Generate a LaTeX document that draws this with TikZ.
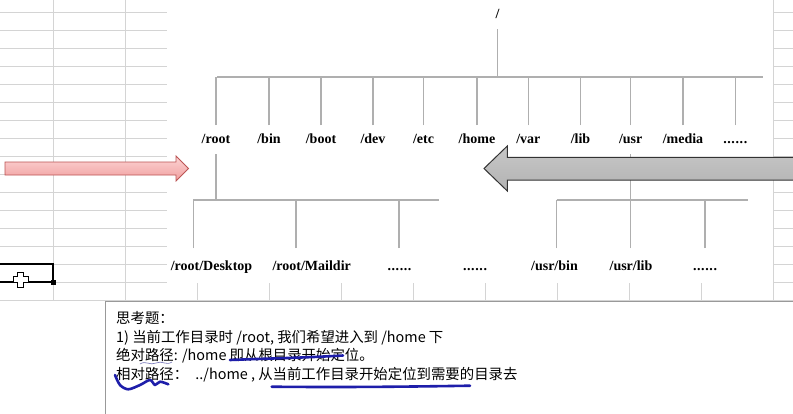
\documentclass[tikz,border=0pt]{standalone}
\usepackage{fontspec}
\setmainfont{Liberation Serif}
\newfontfamily\cjk{Noto Sans CJK SC}
\usetikzlibrary{shadings}
\definecolor{gridc}{RGB}{212,212,212}
\definecolor{treec}{RGB}{175,175,175}
\definecolor{inkc}{RGB}{30,30,170}
\definecolor{thinkc}{RGB}{110,110,180}
\definecolor{pinktop}{RGB}{252,212,212}
\definecolor{pinkbot}{RGB}{240,158,158}
\definecolor{pinkedge}{RGB}{188,84,84}
\newcommand{\dotrow}{.\kern0.6pt.\kern0.6pt.\kern0.6pt.\kern0.6pt.\kern0.6pt.}
\begin{document}
\begin{tikzpicture}[x=1pt,y=-1pt,
  lbl/.style={font=\bfseries\fontsize{14}{16}\selectfont, inner sep=0pt, text height=10pt, text depth=3pt, anchor=base, outer ysep=8pt},
  treeline/.style={draw=treec, line width=1.2pt},
  gridline/.style={draw=gridc, line width=0.8pt},
  note/.style={font=\cjk\fontsize{14.4}{18}\selectfont, anchor=base west, inner sep=0pt},
  inkline/.style={draw=inkc, line width=2.6pt, line cap=round, line join=round}]
\useasboundingbox (0,0) rectangle (793,413);
\fill[white] (0,0) rectangle (793,413);
% spreadsheet grid
\foreach \i in {0,...,10} {\draw[gridline] ({53.3+72*\i},0) -- ({53.3+72*\i},300.5);}
\foreach \j in {0,...,16} {\draw[gridline] (0,{12.5+18*\j}) -- (793,{12.5+18*\j});}
% pasted picture background
\fill[white] (167,0) rectangle (773,283);
% tree
\node[lbl] (top) at (497.5,18) {/};
\coordinate (topbar) at (497.5,77);
\coordinate (barL) at (217,77);
\coordinate (barR) at (763,77);
\draw[treeline] (top.south) -- (topbar);
\draw[treeline] (barL) -- (barR);
\node[lbl] (rootdir) at (216,143) {/root};
\node[lbl] (bin) at (269,143) {/bin};
\node[lbl] (boot) at (321,143) {/boot};
\node[lbl] (dev) at (373,143) {/dev};
\node[lbl] (etc) at (423.5,143) {/etc};
\node[lbl] (home) at (477,143) {/home};
\node[lbl] (var) at (528.3,143) {/var};
\node[lbl] (lib) at (580.5,143) {/lib};
\node[lbl] (usr) at (630.7,143) {/usr};
\node[lbl] (media) at (683,143) {/media};
\node[lbl] (more) at (735.3,143) {\dotrow};
\foreach \n in {rootdir,bin,boot,dev,etc,home,var,lib,usr,media,more}
  {\draw[treeline] (\n.north) -- (\n.north |- topbar);}
% second level under /root
\coordinate (rbar) at (216,200);
\coordinate (rbarL) at (193.3,200);
\coordinate (rbarR) at (439,200);
\coordinate (rv1) at (193.3,248);
\coordinate (rv2) at (296,248);
\coordinate (rv3) at (399,248);
\draw[treeline] (rootdir.south) -- (rbar);
\draw[treeline] (rbarL) -- (rbarR);
\foreach \c in {rv1,rv2,rv3} {\draw[treeline] (\c) -- (\c |- rbar);}
% second level under /usr
\coordinate (ubar) at (630.7,200);
\coordinate (ubarL) at (556.7,200);
\coordinate (ubarR) at (748.3,200);
\coordinate (uv1) at (556.7,248);
\coordinate (uv2) at (630.7,248);
\coordinate (uv3) at (705,248);
\draw[treeline] (usr.south) -- (ubar);
\draw[treeline] (ubarL) -- (ubarR);
\foreach \c in {uv1,uv2,uv3} {\draw[treeline] (\c) -- (\c |- ubar);}
\node[lbl] (desktop) at (211.5,270) {/root/Desktop};
\node[lbl] (maildir) at (311.7,270) {/root/Maildir};
\node[lbl] (dotsa) at (399.5,270) {\dotrow};
\node[lbl] (dotsb) at (475,270) {\dotrow};
\node[lbl] (usrbin) at (554.5,270) {/usr/bin};
\node[lbl] (usrlib) at (631,270) {/usr/lib};
\node[lbl] (dotsc) at (705,270) {\dotrow};
% pink arrow
\path[draw=pinkedge, line width=0.8pt, top color=pinktop, bottom color=pinkbot]
  (5,162) -- (176,162) -- (176,156) -- (188.5,168.5) -- (176,181) -- (176,175) -- (5,175) -- cycle;
% gray arrow
\path[draw=black!80, line width=1pt, top color=black!22, middle color=black!7, bottom color=black!30]
  (484,168.5) -- (507.3,146) -- (507.3,157.3) -- (800,157.3) -- (800,180) -- (507.3,180) -- (507.3,191) -- cycle;
% selected cell
\draw[black, line width=2pt] (-2,264) rectangle (53.3,282);
\fill[black] (50.8,279.5) rectangle (55.8,284.5);
\draw[black, line width=1pt, fill=white]
  (17.9,272) -- (23.5,272) -- (23.5,276.7) -- (28.2,276.7) -- (28.2,282.3) -- (23.5,282.3) -- (23.5,287) -- (17.9,287) -- (17.9,282.3) -- (13.2,282.3) -- (13.2,276.7) -- (17.9,276.7) -- cycle;
% note box
\draw[draw=black!40, line width=0.8pt, fill=white] (105,301.5) rectangle (800,420);
\node[note] (q0) at (116,323.5) {思考题：};
\node[note] (q1) at (116,342) {1) 当前工作目录时 /root, 我们希望进入到 /home 下};
\node[note] (q2) at (116,360.5) {绝对路径: /home 即从根目录开始定位。};
\node[note] (q3) at (116,379.3) {相对路径：\hspace{0.5em}../home , 从当前工作目录开始定位到需要的目录去};
% hand-drawn marks
\draw[inkline] (230,360) .. controls (265,358.5) and (300,358) .. (343,355.5);
\draw[thinkc, line width=0.6pt] (140,364) .. controls (146,360) and (150,366) .. (156,363) .. controls (162,360) and (166,366) .. (172,362);
\draw[inkline] plot[smooth] coordinates {(115,375) (120,385) (128.3,389.3) (140,385) (150,380) (155,385) (160,381.7) (168.3,384.3)};
\draw[inkline] (271.7,386.7) .. controls (350,387.5) and (420,386.5) .. (470,385.7);
\end{tikzpicture}
\end{document}
